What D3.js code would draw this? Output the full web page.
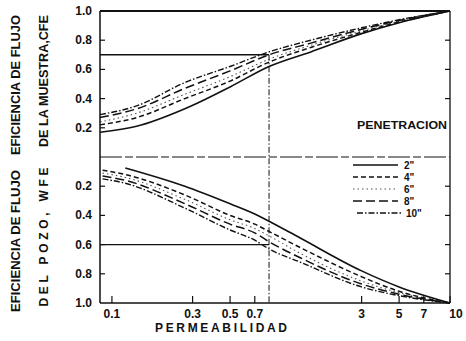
<!DOCTYPE html>
<html><head><meta charset="utf-8">
<script src="https://cdn.jsdelivr.net/npm/d3@7"></script>
<style>
body{margin:0;background:#fff}
text{font-family:"Liberation Sans",Arial,sans-serif;font-weight:bold;fill:#111}
</style>
</head><body><svg id="c" width="466" height="341"></svg>
<script>
// ---- data ----
const series = ['2"', '4"', '6"', '8"', '10"'];
const permUpper = [0.085, 0.14, 0.27, 0.5, 0.85, 1.5, 3, 5, 10];
const cfe2  = [0.17, 0.21, 0.33, 0.48, 0.62, 0.72, 0.845, 0.92, 1.0];
const cfe4  = [0.22, 0.27, 0.40, 0.52, 0.65, 0.75, 0.855, 0.925, 1.0];
const cfe6  = [0.24, 0.30, 0.43, 0.55, 0.67, 0.765, 0.865, 0.93, 1.0];
const cfe8  = [0.27, 0.33, 0.47, 0.59, 0.70, 0.78, 0.875, 0.935, 1.0];
const cfe10 = [0.29, 0.35, 0.51, 0.62, 0.72, 0.80, 0.885, 0.94, 1.0];
const permLower = [0.088, 0.12, 0.27, 0.5, 0.7, 0.85, 1.3, 3, 5, 10];
const wfe2  = [null, 0.075, 0.20, 0.32, 0.39, 0.44, 0.555, 0.78, 0.89, 1.0];
const wfe4  = [0.09, 0.12, 0.26, 0.40, 0.46, 0.51, 0.62, 0.82, 0.92, 1.0];
const wfe6  = [0.11, 0.14, 0.29, 0.43, 0.49, 0.54, 0.66, 0.85, 0.93, 1.0];
const wfe8  = [0.13, 0.16, 0.32, 0.46, 0.52, 0.58, 0.69, 0.87, 0.94, 1.0];
const wfe10 = [0.15, 0.18, 0.35, 0.50, 0.57, 0.63, 0.72, 0.89, 0.95, 1.0];
const xTicks = [0.1, 0.3, 0.5, 0.7, 3, 5, 7, 10];
const xTickLabels = ["0.1", "0.3", "0.5", "0.7", "3", "5", "7", "10"];
const yTicksUpper = [0.2, 0.4, 0.6, 0.8, 1.0];
const yTickLabelsUpper = ["0.2", "0.4", "0.6", "0.8", "1.0"];
const yTicksLower = [0.2, 0.4, 0.6, 0.8, 1.0];
const yTickLabelsLower = ["0.2", "0.4", "0.6", "0.8", "1.0"];
const refCFE = 0.7, refWFE = 0.6, refPerm = 0.85;

// ---- layout ----
const L = 100, R = 450, T = 11, M = 157, B = 303;
const svg = d3.select("#c");
const x = d3.scaleLog().domain([0.085, 10]).range([L, R]);
const yU = d3.scaleLinear().domain([0, 1]).range([M, T]);
const yL = d3.scaleLinear().domain([0, 1]).range([M, B]);

const styles = [
  {dash: null, w: 1.6, c: "#111"},
  {dash: "5,3", w: 1.5, c: "#111"},
  {dash: "1.5,3", w: 1.1, c: "#555"},
  {dash: "9,4", w: 1.5, c: "#111"},
  {dash: "6,2,1.5,2", w: 1.4, c: "#111"}
];
const upperSets = [cfe2, cfe4, cfe6, cfe8, cfe10];
const lowerSets = [wfe2, wfe4, wfe6, wfe8, wfe10];

function drawSet(perm, vals, y, st) {
  const pts = perm.map((p, i) => [p, vals[i]]);
  const line = d3.line().defined(d => d[1] != null)
    .x(d => x(d[0])).y(d => y(d[1])).curve(d3.curveMonotoneX);
  svg.append("path").attr("d", line(pts)).attr("fill", "none")
    .attr("stroke", st.c).attr("stroke-width", st.w)
    .attr("stroke-dasharray", st.dash);
}
upperSets.forEach((v, i) => drawSet(permUpper, v, yU, styles[i]));
lowerSets.forEach((v, i) => drawSet(permLower, v, yL, styles[i]));

// ---- frame ----
const g = svg.append("g").attr("stroke", "#111").attr("fill", "none");
g.append("line").attr("x1", L).attr("x2", R).attr("y1", T).attr("y2", T).attr("stroke-width", 1.8);
g.append("line").attr("x1", L).attr("x2", L).attr("y1", T).attr("y2", B).attr("stroke-width", 1.5);
g.append("line").attr("x1", R).attr("x2", R).attr("y1", T).attr("y2", B).attr("stroke-width", 1.3);
g.append("line").attr("x1", L).attr("x2", R).attr("y1", B).attr("y2", B).attr("stroke-width", 1.5);
g.append("line").attr("x1", L).attr("x2", R).attr("y1", M).attr("y2", M).attr("stroke-width", 1)
  .attr("stroke-dasharray", "22,3,8,3");

// reference lines
g.append("line").attr("x1", L).attr("x2", x(refPerm)).attr("y1", yU(refCFE)).attr("y2", yU(refCFE)).attr("stroke-width", 1.4);
g.append("line").attr("x1", L).attr("x2", x(refPerm)).attr("y1", yL(refWFE)).attr("y2", yL(refWFE)).attr("stroke-width", 1.4);
g.append("line").attr("x1", x(refPerm)).attr("x2", x(refPerm)).attr("y1", yU(refCFE)).attr("y2", B)
  .attr("stroke-width", 1).attr("stroke-dasharray", "6,2,1.5,2");

// ---- ticks ----
xTicks.forEach((t, i) => {
  g.append("line").attr("x1", x(t)).attr("x2", x(t)).attr("y1", B).attr("y2", B - 7).attr("stroke-width", 1.2);
  svg.append("text").attr("x", x(t) + (i === xTicks.length - 1 ? 6 : 0)).attr("y", 318)
    .attr("text-anchor", "middle").attr("font-size", 12).text(xTickLabels[i]);
});
yTicksUpper.forEach((t, i) => {
  if (t < 1) {
    g.append("line").attr("x1", L).attr("x2", L + 5).attr("y1", yU(t)).attr("y2", yU(t)).attr("stroke-width", 1.2);
    if (t > 0.3) g.append("line").attr("x1", R).attr("x2", R - 5).attr("y1", yU(t)).attr("y2", yU(t)).attr("stroke-width", 1.2);
  }
  svg.append("text").attr("x", 92).attr("y", yU(t) + 4).attr("text-anchor", "end")
    .attr("font-size", 12).text(yTickLabelsUpper[i]);
});
yTicksLower.forEach((t, i) => {
  if (t < 1) {
    g.append("line").attr("x1", L).attr("x2", L + 5).attr("y1", yL(t)).attr("y2", yL(t)).attr("stroke-width", 1.2);
    g.append("line").attr("x1", R).attr("x2", R - 5).attr("y1", yL(t)).attr("y2", yL(t)).attr("stroke-width", 1.2);
  }
  svg.append("text").attr("x", 92).attr("y", yL(t) + 4).attr("text-anchor", "end")
    .attr("font-size", 12).text(yTickLabelsLower[i]);
});

// ---- titles ----
function vtext(cx, cy, len, s, adj) {
  svg.append("text").attr("transform", `translate(${cx},${cy}) rotate(-90)`)
    .attr("text-anchor", "middle").attr("dy", "0.35em").attr("font-size", 12)
    .attr("textLength", len).attr("lengthAdjust", adj).text(s);
}
vtext(16, 85, 140, "EFICIENCIA DE FLUJO", "spacingAndGlyphs");
vtext(44, 81, 132, "DE LA MUESTRA,CFE", "spacingAndGlyphs");
vtext(16, 241, 142, "EFICIENCIA DE FLUJO", "spacingAndGlyphs");
vtext(44, 237, 139, "DEL POZO, WFE", "spacing");
svg.append("text").attr("x", 221).attr("y", 332).attr("text-anchor", "middle")
  .attr("font-size", 12).attr("textLength", 132).attr("lengthAdjust", "spacing").text("PERMEABILIDAD");
svg.append("text").attr("x", 447).attr("y", 129).attr("text-anchor", "end")
  .attr("font-size", 10).attr("font-weight", "normal").attr("textLength", 90)
  .attr("lengthAdjust", "spacingAndGlyphs").text("PENETRACION");

// ---- legend ----
series.forEach((s, i) => {
  const ly = 165 + i * 12;
  const st = styles[i];
  svg.append("line").attr("x1", 353 + (i === 4 ? 4 : 0)).attr("x2", 398 + (i === 4 ? 4 : 0))
    .attr("y1", ly).attr("y2", ly).attr("stroke", st.c).attr("stroke-width", st.w)
    .attr("stroke-dasharray", st.dash);
  svg.append("text").attr("x", 404 + (i === 4 ? 2 : 0)).attr("y", ly + 4)
    .attr("font-size", 10).text(s);
});
</script></body></html>
